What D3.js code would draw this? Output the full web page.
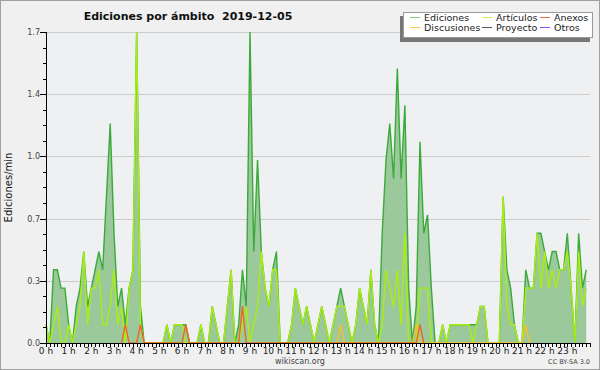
<!DOCTYPE html>
<html>
<head>
<meta charset="utf-8">
<script src="https://cdn.jsdelivr.net/npm/d3@7"></script>
<style>
  body { margin: 0; background: #f0f0f0; }
  svg { display: block; font-family: "DejaVu Sans", sans-serif; }
</style>
</head>
<body>
<div id="chart"></div>
<script>
const width = 600;
const height = 370;
const margin = { top: 32, right: 10, bottom: 27, left: 46 };

// 10 minute steps, one row = 2 hours
const ediciones = [
  0.1, 0, 0.4, 0.4, 0.3, 0.3, 0.1, 0, 0.2, 0.3, 0.5, 0.2,
  0.3, 0.4, 0.5, 0.4, 0.8, 1.2, 0.6, 0.2, 0.3, 0.1, 0.3, 0.4,
  1.7, 0.2, 0, 0, 0, 0, 0, 0, 0.1, 0, 0.1, 0.1,
  0.1, 0.1, 0, 0, 0, 0.1, 0, 0, 0.2, 0.1, 0, 0,
  0.2, 0.4, 0, 0.1, 0.4, 0.2, 1.7, 0.5, 1.0, 0.5, 0.3, 0.2,
  0.4, 0.5, 0, 0, 0, 0.1, 0.3, 0.2, 0.1, 0.2, 0.1, 0,
  0.1, 0.2, 0.1, 0, 0.1, 0.2, 0.3, 0.2, 0.1, 0, 0.1, 0.3,
  0.2, 0.1, 0.4, 0.1, 0, 0.6, 1.0, 1.2, 0.9, 1.5, 0.9, 1.3,
  0.3, 0, 0.2, 1.1, 0.6, 0.7, 0.3, 0, 0, 0.1, 0, 0.1,
  0.1, 0.1, 0.1, 0.1, 0.1, 0.1, 0.1, 0.2, 0.2, 0, 0, 0,
  0, 0.8, 0.4, 0.3, 0.1, 0, 0, 0.4, 0.3, 0.3, 0.6, 0.6,
  0.5, 0.4, 0.5, 0.5, 0.4, 0.4, 0.6, 0.3, 0, 0.6, 0.3, 0.4
];
const articulos = [
  0.1, 0, 0.1, 0.2, 0, 0, 0.1, 0, 0.1, 0.2, 0.5, 0.1,
  0.3, 0.3, 0.4, 0.1, 0.1, 0.2, 0.4, 0.1, 0.2, 0, 0.3, 0.4,
  1.7, 0.1, 0, 0, 0, 0, 0, 0, 0.1, 0, 0.1, 0.1,
  0.1, 0, 0, 0, 0, 0.1, 0, 0, 0.2, 0.1, 0, 0,
  0.2, 0.4, 0, 0, 0.1, 0.2, 0, 0.1, 0.2, 0.5, 0.3, 0.2,
  0.4, 0.4, 0, 0, 0, 0.1, 0.3, 0.2, 0.1, 0.2, 0.1, 0,
  0.1, 0.2, 0.1, 0, 0.1, 0.2, 0.2, 0.2, 0.1, 0, 0.1, 0.3,
  0.2, 0.1, 0.4, 0.1, 0, 0.1, 0.4, 0.3, 0.2, 0.4, 0.1, 0.6,
  0, 0, 0, 0.3, 0.3, 0.3, 0, 0, 0, 0.1, 0, 0.1,
  0.1, 0.1, 0.1, 0.1, 0.1, 0, 0.1, 0.2, 0.2, 0, 0, 0,
  0, 0.8, 0.2, 0.1, 0.1, 0, 0, 0.3, 0.3, 0.3, 0.6, 0.3,
  0.5, 0.3, 0.4, 0.3, 0.4, 0.4, 0.5, 0.3, 0, 0.5, 0.2, 0.3
];
// sparse series: [step, value]
const anexos = [[21, 0.1], [25, 0.1], [37, 0.1], [52, 0.2], [99, 0.1]];
const discusiones = [[78, 0.1], [98, 0.1], [127, 0.1]];

const yTicks = [0, 0.34, 0.68, 1.02, 1.36, 1.7];
const yLabels = ["0.0", "0.3", "0.7", "1.0", "1.4", "1.7"];
const hourLabels = d3.range(24).map(h => h + " h");

const legendItems = [
  { name: "Ediciones", color: "#7ccc7c" },
  { name: "Artículos", color: "#ccee55" },
  { name: "Anexos", color: "#f07040" },
  { name: "Discusiones", color: "#ffcc44" },
  { name: "Proyecto", color: "#555555" },
  { name: "Otros", color: "#9944ff" }
];

const svg = d3.select("#chart").append("svg")
  .attr("width", width)
  .attr("height", height);

svg.append("rect")
  .attr("x", 0.5).attr("y", 0.5)
  .attr("width", width - 1).attr("height", height - 1)
  .attr("fill", "#f0f0f0")
  .attr("stroke", "#a0a0a0");

const x = d3.scaleLinear().domain([0, 24]).range([margin.left, width - margin.right]);
const y = d3.scaleLinear().domain([0, 1.7]).range([height - margin.bottom, margin.top]);

// plot background + grid
svg.append("rect")
  .attr("x", x(0)).attr("y", y(1.7))
  .attr("width", x(24) - x(0)).attr("height", y(0) - y(1.7))
  .attr("fill", "#eef0f2");

svg.append("g").selectAll("line")
  .data(yTicks.slice(1))
  .enter().append("line")
  .attr("x1", x(0)).attr("x2", x(24))
  .attr("y1", d => Math.round(y(d)) + 0.5)
  .attr("y2", d => Math.round(y(d)) + 0.5)
  .attr("stroke", "#cccccc");

const t = i => i / 6;
const dense = arr => arr.map((v, i) => [t(i), v]);
const sparse = arr => {
  const out = [];
  arr.forEach(([i, v]) => { out.push([t(i - 1), 0], [t(i), v], [t(i + 1), 0]); });
  return out;
};

const area = d3.area()
  .x(d => x(d[0]))
  .y0(y(0))
  .y1(d => y(d[1]));
const line = d3.line()
  .x(d => x(d[0]))
  .y(d => y(d[1]));

svg.append("path")
  .datum(dense(ediciones))
  .attr("d", area)
  .attr("fill", "#9cc99c");

svg.append("path")
  .datum(dense(ediciones))
  .attr("d", line)
  .attr("fill", "none")
  .attr("stroke", "#3aaa3a")
  .attr("stroke-width", 1.4);

svg.append("path")
  .datum(dense(articulos))
  .attr("d", line)
  .attr("fill", "none")
  .attr("stroke", "#aaee11")
  .attr("stroke-width", 1.4);

svg.append("path")
  .datum(sparse(discusiones))
  .attr("d", line)
  .attr("fill", "none")
  .attr("stroke", "#f5c030")
  .attr("stroke-width", 1.4);

svg.append("path")
  .datum(sparse(anexos))
  .attr("d", line)
  .attr("fill", "none")
  .attr("stroke", "#ee6622")
  .attr("stroke-width", 1.4);

// axes
const yAxis = svg.append("g");
yAxis.append("line")
  .attr("x1", x(0) + 0.5).attr("x2", x(0) + 0.5)
  .attr("y1", y(1.7)).attr("y2", y(0))
  .attr("stroke", "#000");
yAxis.selectAll(".minor")
  .data(d3.range(0, 21).map(k => k * 0.085))
  .enter().append("line")
  .attr("x1", x(0) - 3).attr("x2", x(0))
  .attr("y1", d => Math.round(y(d)) + 0.5)
  .attr("y2", d => Math.round(y(d)) + 0.5)
  .attr("stroke", "#000");
yAxis.selectAll(".major")
  .data(yTicks)
  .enter().append("line")
  .attr("x1", x(0) - 6).attr("x2", x(0))
  .attr("y1", d => Math.round(y(d)) + 0.5)
  .attr("y2", d => Math.round(y(d)) + 0.5)
  .attr("stroke", "#000");
yAxis.selectAll("text")
  .data(yTicks)
  .enter().append("text")
  .attr("x", x(0) - 6)
  .attr("y", d => y(d) + 3)
  .attr("text-anchor", "end")
  .attr("font-size", 8)
  .attr("fill", "#444")
  .text((d, i) => yLabels[i]);

const xAxis = svg.append("g");
xAxis.append("line")
  .attr("x1", x(0)).attr("x2", x(24))
  .attr("y1", y(0) + 0.5).attr("y2", y(0) + 0.5)
  .attr("stroke", "#000");
xAxis.selectAll(".minor")
  .data(d3.range(0, 145).map(i => i / 6))
  .enter().append("line")
  .attr("x1", d => Math.round(x(d)) + 0.5)
  .attr("x2", d => Math.round(x(d)) + 0.5)
  .attr("y1", y(0)).attr("y2", y(0) + 4)
  .attr("stroke", "#000");
xAxis.selectAll("text")
  .data(hourLabels)
  .enter().append("text")
  .attr("x", (d, i) => x(i))
  .attr("y", y(0) + 11)
  .attr("text-anchor", "middle")
  .attr("font-size", 9)
  .attr("fill", "#222")
  .text(d => d);

// titles
svg.append("text")
  .attr("x", 188).attr("y", 20)
  .attr("text-anchor", "middle")
  .attr("font-size", 11)
  .attr("font-weight", "bold")
  .attr("fill", "#111")
  .attr("xml:space", "preserve")
  .text("Ediciones por ámbito  2019-12-05");

svg.append("text")
  .attr("transform", `translate(12,${(y(0) + y(1.7)) / 2}) rotate(-90)`)
  .attr("text-anchor", "middle")
  .attr("font-size", 10)
  .attr("fill", "#111")
  .text("Ediciones/min");

svg.append("text")
  .attr("x", 300).attr("y", 364)
  .attr("text-anchor", "middle")
  .attr("font-size", 8)
  .attr("fill", "#444")
  .text("wikiscan.org");

svg.append("text")
  .attr("x", 590).attr("y", 364)
  .attr("text-anchor", "end")
  .attr("font-size", 6.5)
  .attr("fill", "#444")
  .text("CC BY-SA 3.0");

// legend
const legend = svg.append("g");
legend.append("rect")
  .attr("x", 400).attr("y", 16)
  .attr("width", 190).attr("height", 26)
  .attr("fill", "#777");
legend.append("rect")
  .attr("x", 403.5).attr("y", 12.5)
  .attr("width", 189).attr("height", 25)
  .attr("fill", "#fff")
  .attr("stroke", "#999");

const colX = [410, 482, 540];
const rowY = [21, 31];
legendItems.forEach((item, k) => {
  const cx = colX[k % 3];
  const cy = rowY[Math.floor(k / 3)];
  legend.append("line")
    .attr("x1", cx).attr("x2", cx + 10)
    .attr("y1", cy - 3.5).attr("y2", cy - 3.5)
    .attr("stroke", item.color);
  legend.append("text")
    .attr("x", cx + 14).attr("y", cy)
    .attr("font-size", 9.5)
    .attr("fill", "#222")
    .text(item.name);
});
</script>
</body>
</html>
